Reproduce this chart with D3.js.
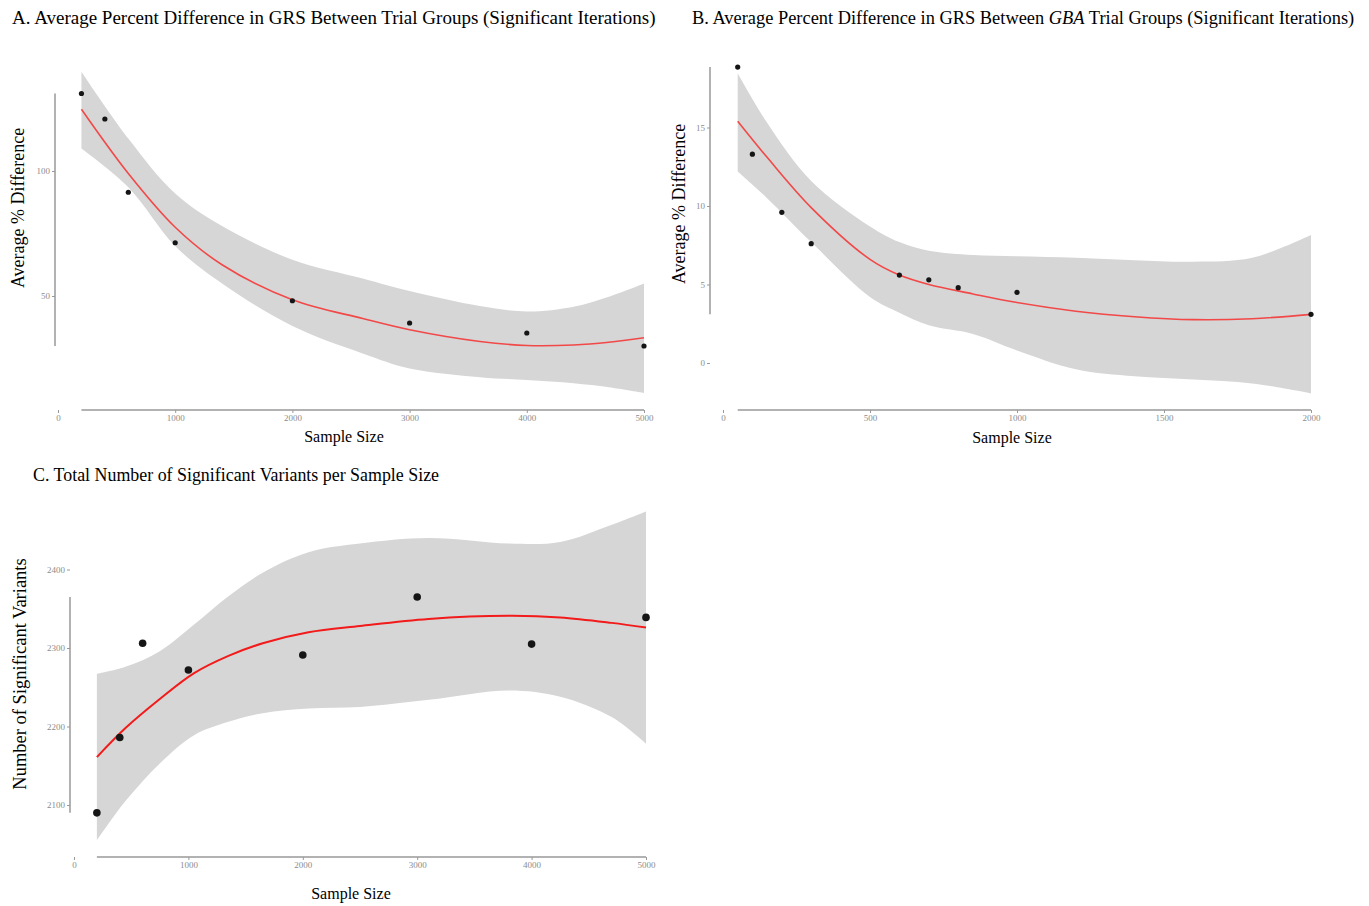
<!DOCTYPE html>
<html>
<head>
<meta charset="utf-8">
<script src="https://cdn.jsdelivr.net/npm/d3@7"></script>
<style>
body { margin: 0; background: #fff; }
svg { display: block; font-family: "Liberation Serif", "Times New Roman", serif; }
</style>
</head>
<body>
<svg id="chart" width="1369" height="906"></svg>
<script>
// A - GRS % difference, all trial groups
var sizesA = [200, 400, 600, 1000, 2000, 3000, 4000, 5000];
var pctA = [131, 120.8, 91.5, 71.3, 48.1, 39.2, 35.2, 30.0];
var gridA = [200, 600, 1000, 1400, 2000, 2600, 3000, 3600, 4000, 4400, 4700, 5000];
var fitA = [124.7, 99, 77.5, 62.5, 48.5, 41, 36.5, 31.8, 30.2, 30.4, 31.5, 33.3];
var upperA = [139.7, 113, 91, 78, 64.5, 57, 52, 46, 43.8, 45.7, 49.7, 55];
var lowerA = [109, 93.5, 70, 55, 38, 27, 21, 17.5, 16.4, 15.1, 13.5, 11.2];
var xTicksA = [0, 1000, 2000, 3000, 4000, 5000];
var yTicksA = [50, 100];

// B - GBA trial groups
var sizesB = [50, 100, 200, 300, 600, 700, 800, 1000, 2000];
var pctB = [18.85, 13.3, 9.6, 7.6, 5.6, 5.3, 4.8, 4.5, 3.1];
var gridB = [50, 150, 300, 500, 600, 700, 850, 1000, 1200, 1400, 1600, 1800, 2000];
var fitB = [15.4, 13.1, 9.9, 6.6, 5.6, 5.0, 4.4, 3.85, 3.3, 2.95, 2.76, 2.82, 3.1];
var upperB = [18.45, 15.3, 11.6, 8.7, 7.7, 7.15, 6.88, 6.8, 6.7, 6.55, 6.45, 6.7, 8.15];
var lowerB = [12.2, 10.5, 7.7, 4.2, 3.2, 2.4, 1.85, 0.8, -0.4, -0.85, -1.05, -1.3, -1.93];
var xTicksB = [0, 500, 1000, 1500, 2000];
var yTicksB = [0, 5, 10, 15];

// C - significant variants
var sizesC = [200, 400, 600, 1000, 2000, 3000, 4000, 5000];
var variantsC = [2090, 2186, 2306, 2272, 2291, 2365, 2305, 2339];
var gridC = [200, 450, 750, 1050, 1350, 1650, 2050, 2500, 3100, 3800, 4250, 4700, 5000];
var fitC = [2161, 2198, 2235, 2268, 2290, 2306, 2320, 2328, 2337, 2341, 2339, 2332, 2326];
var upperC = [2267, 2276, 2296, 2330, 2366, 2396, 2422, 2433, 2440, 2433, 2435, 2457, 2474];
var lowerC = [2055, 2105, 2153, 2189, 2206, 2217, 2223, 2225, 2234, 2246, 2238, 2212, 2178];
var xTicksC = [0, 1000, 2000, 3000, 4000, 5000];
var yTicksC = [2100, 2200, 2300, 2400];

var svg = d3.select("#chart");
var curve = d3.curveCatmullRom.alpha(0.5);

function panel(o) {
    var x = d3.scaleLinear().domain(o.xDom).range(o.xRange);
    var y = d3.scaleLinear().domain(o.yDom).range(o.yRange);
    var g = svg.append("g");

    var band = o.grid.map((d, i) => {
        return {x: d, lo: o.lower[i], hi: o.upper[i], fit: o.fit[i]};
    });

    g.append("path")
            .datum(band)
            .attr("d", d3.area()
                    .x((d) => x(d.x))
                    .y0((d) => y(d.lo))
                    .y1((d) => y(d.hi))
                    .curve(curve))
            .attr("fill", "#d6d6d6");

    g.append("path")
            .datum(band)
            .attr("d", d3.line()
                    .x((d) => x(d.x))
                    .y((d) => y(d.fit))
                    .curve(curve))
            .attr("fill", "none")
            .attr("stroke", o.red)
            .attr("stroke-width", o.lw);

    g.selectAll("circle")
            .data(o.xs)
            .enter()
            .append("circle")
            .attr("cx", (d) => x(d))
            .attr("cy", (d, i) => y(o.ys[i]))
            .attr("r", o.r)
            .attr("fill", "#151515");

    // axes (tufte-style range frame)
    var ya = g.append("g")
            .attr("transform", "translate(" + o.yAxisX + ",0)")
            .call(d3.axisLeft(y).tickValues(o.yTicks).tickFormat(d3.format("d"))
                    .tickSize(3).tickPadding(2));
    var xa = g.append("g")
            .attr("transform", "translate(0," + o.xAxisY + ")")
            .call(d3.axisBottom(x).tickValues(o.xTicks).tickFormat(d3.format("d"))
                    .tickSize(3).tickPadding(2));
    [ya, xa].forEach((a) => {
        a.select(".domain").remove();
        a.selectAll("line").attr("stroke", "#999");
        a.selectAll("text")
                .attr("fill", "#8c8c8c")
                .style("font-family", "Liberation Serif")
                .style("font-size", "9px");
    });

    g.append("line")
            .attr("x1", o.yAxisX).attr("x2", o.yAxisX)
            .attr("y1", y(d3.min(o.ys))).attr("y2", y(d3.max(o.ys)))
            .attr("stroke", "#999").attr("stroke-width", 1.5);
    g.append("line")
            .attr("y1", o.xAxisY).attr("y2", o.xAxisY)
            .attr("x1", x(d3.min(o.xs))).attr("x2", x(d3.max(o.xs)))
            .attr("stroke", "#999").attr("stroke-width", 1.5);

    g.append("text")
            .attr("x", o.xTitleX)
            .attr("y", o.xTitleY)
            .attr("text-anchor", "middle")
            .style("font-size", "16px")
            .text("Sample Size");
    g.append("text")
            .attr("transform", "translate(" + o.yTitleX + "," + o.yTitleMid + ") rotate(-90)")
            .attr("text-anchor", "middle")
            .style("font-size", o.yTitleSize)
            .text(o.yTitle);
}

panel({
    xDom: [0, 5000], xRange: [58, 644],
    yDom: [0, 100], yRange: [421, 171],
    grid: gridA, fit: fitA, upper: upperA, lower: lowerA,
    xs: sizesA, ys: pctA, xTicks: xTicksA, yTicks: yTicksA,
    yAxisX: 55, xAxisY: 410, r: 2.6, red: "#f24848", lw: 1.6,
    xTitleX: 344, xTitleY: 442, yTitleX: 24, yTitleMid: 208, yTitleSize: "18px",
    yTitle: "Average % Difference"
});

panel({
    xDom: [0, 2000], xRange: [723, 1311],
    yDom: [0, 15], yRange: [363, 127.5],
    grid: gridB, fit: fitB, upper: upperB, lower: lowerB,
    xs: sizesB, ys: pctB, xTicks: xTicksB, yTicks: yTicksB,
    yAxisX: 710, xAxisY: 410, r: 2.6, red: "#f24848", lw: 1.6,
    xTitleX: 1012, xTitleY: 443, yTitleX: 685, yTitleMid: 204, yTitleSize: "18px",
    yTitle: "Average % Difference"
});

panel({
    xDom: [0, 5000], xRange: [74, 646],
    yDom: [2100, 2400], yRange: [805, 569.5],
    grid: gridC, fit: fitC, upper: upperC, lower: lowerC,
    xs: sizesC, ys: variantsC, xTicks: xTicksC, yTicks: yTicksC,
    yAxisX: 70, xAxisY: 857, r: 3.8, red: "#f21a1a", lw: 2,
    xTitleX: 351, xTitleY: 899, yTitleX: 26, yTitleMid: 674, yTitleSize: "18.5px",
    yTitle: "Number of Significant Variants"
});

// panel titles
svg.append("text")
        .attr("x", 12).attr("y", 24)
        .style("font-size", "19px")
        .text("A. Average Percent Difference in GRS Between Trial Groups (Significant Iterations)");
var tB = svg.append("text")
        .attr("x", 692).attr("y", 24)
        .style("font-size", "18.4px");
tB.append("tspan").text("B. Average Percent Difference in GRS Between ");
tB.append("tspan").style("font-style", "italic").text("GBA");
tB.append("tspan").text(" Trial Groups (Significant Iterations)");
svg.append("text")
        .attr("x", 33).attr("y", 481)
        .style("font-size", "17.9px")
        .text("C. Total Number of Significant Variants per Sample Size");
</script>
</body>
</html>
